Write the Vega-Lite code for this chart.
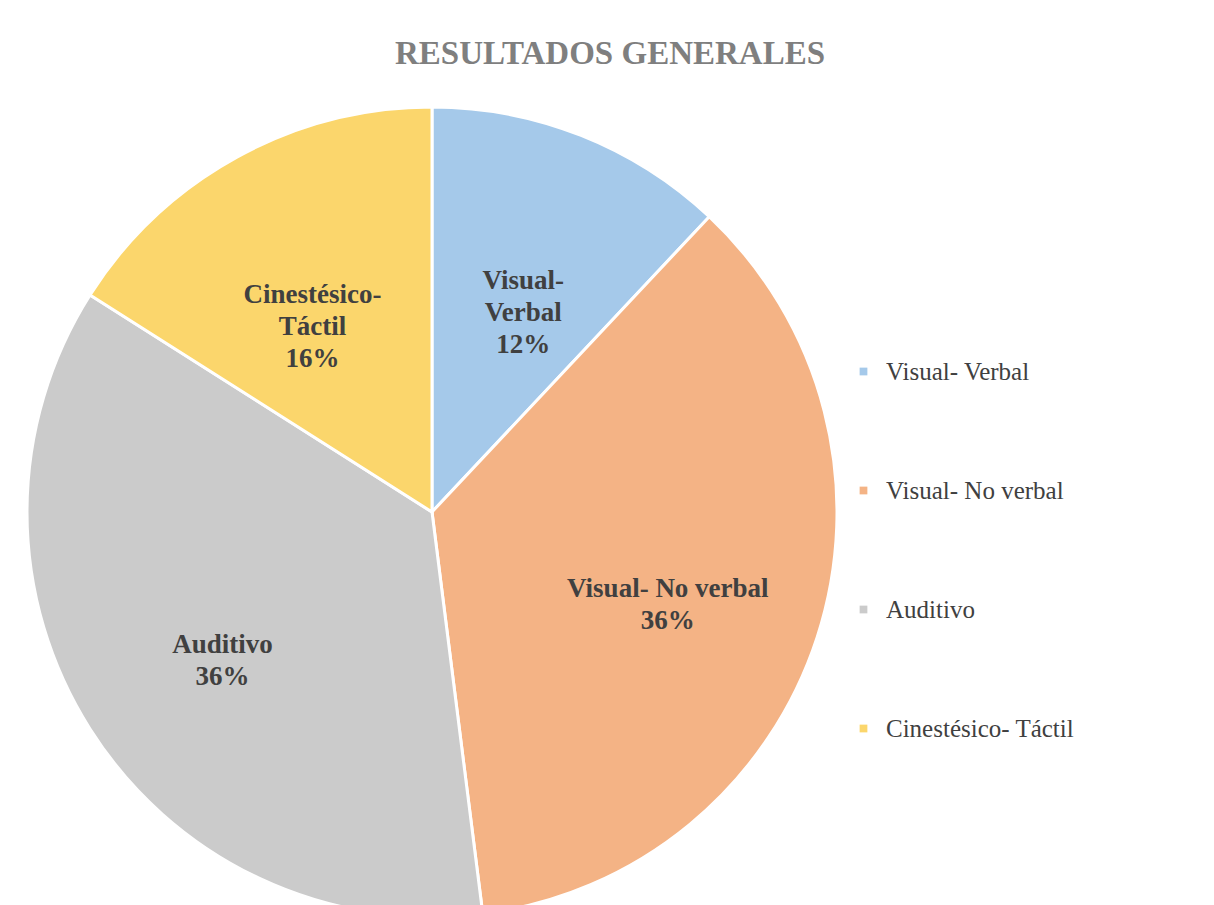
{
  "$schema": "https://vega.github.io/schema/vega-lite/v6.json",
  "autosize": "none",
  "width": 814,
  "height": 810,
  "padding": {"left": 25, "top": 107, "right": 375, "bottom": 0},
  "background": "white",
  "title": {
    "text": "RESULTADOS GENERALES",
    "font": "Liberation Serif",
    "fontSize": 33,
    "fontWeight": "bold",
    "color": "#7f7f7f",
    "anchor": "middle",
    "dx": 178,
    "offset": 30
  },
  "data": {
    "values": [
      {"estilo": "Visual- Verbal", "pct": 12, "orden": 1, "etiqueta": "Visual-\nVerbal\n12%"},
      {"estilo": "Visual- No verbal", "pct": 36, "orden": 2, "etiqueta": "Visual- No verbal\n36%"},
      {"estilo": "Auditivo", "pct": 36, "orden": 3, "etiqueta": "Auditivo\n36%"},
      {"estilo": "Cinestésico- Táctil", "pct": 16, "orden": 4, "etiqueta": "Cinestésico-\nTáctil\n16%"}
    ]
  },
  "encoding": {
    "theta": {"field": "pct", "type": "quantitative", "stack": true},
    "order": {"field": "orden", "type": "quantitative"}
  },
  "layer": [
    {
      "mark": {"type": "arc", "outerRadius": 405, "stroke": "white", "strokeWidth": 3},
      "encoding": {
        "color": {
          "field": "estilo",
          "type": "nominal",
          "scale": {
            "domain": ["Visual- Verbal", "Visual- No verbal", "Auditivo", "Cinestésico- Táctil"],
            "range": ["#a5c9ea", "#f4b385", "#cbcbcb", "#fbd66c"]
          },
          "legend": {
            "title": null,
            "orient": "none",
            "legendX": 826,
            "legendY": 252,
            "symbolType": "square",
            "symbolSize": 60,
            "symbolStrokeWidth": 0,
            "labelFont": "Liberation Serif",
            "labelFontSize": 25,
            "labelColor": "#404040",
            "labelOffset": 10,
            "rowPadding": 93,
            "labelLimit": 400
          }
        }
      }
    },
    {
      "mark": {
        "type": "text",
        "radius": 248,
        "font": "Liberation Serif",
        "fontSize": 27,
        "fontWeight": "bold",
        "color": "#404040",
        "lineBreak": "\n",
        "lineHeight": 32,
        "align": "center",
        "baseline": "middle"
      },
      "encoding": {
        "text": {"field": "etiqueta", "type": "nominal"}
      }
    }
  ]
}
